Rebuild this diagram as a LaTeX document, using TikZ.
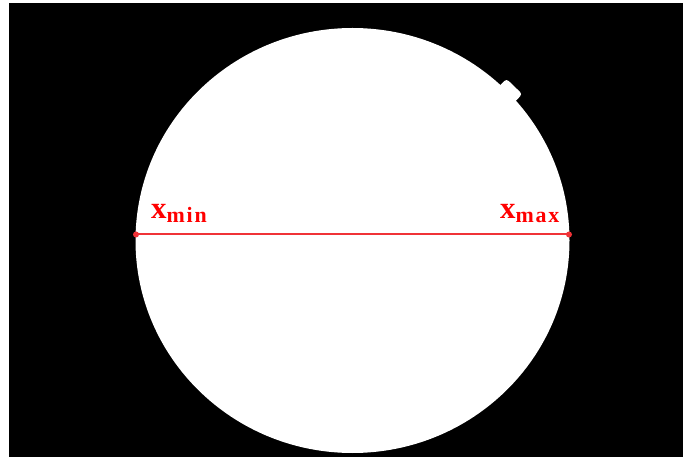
\documentclass[tikz,border=0pt]{standalone}
\usepackage{fontspec}
\setmainfont{Liberation Serif}
\definecolor{linered}{RGB}{240,50,55}
\tikzset{
  endpt/.style={circle,fill=linered,inner sep=0pt,minimum size=6bp},
  lbl/.style={text=red,font=\bfseries,inner sep=0pt,anchor=base west},
}
\newcommand{\bigx}[1]{{\fontsize{31}{31}\selectfont x}\raisebox{-4bp}{\fontsize{22}{22}\selectfont\addfontfeatures{LetterSpace=8}#1}}
\begin{document}
\begin{tikzpicture}[x=1bp,y=-1bp]
\useasboundingbox (0,0) rectangle (683,459);
\fill[white] (0,0) rectangle (683,459);
\fill[black] (9,3) rectangle (683,457);
% disk
\fill[white] (352.5,240.5) ellipse [x radius=217, y radius=212.5];
\node[fill=white,rounded corners=3bp,minimum width=22bp,minimum height=14bp,inner sep=0pt,rotate=-44] (notch) at (509.5,91.5) {};
% diameter
\node[endpt] (xmin) at (136,234.5) {};
\node[endpt] (xmax) at (569,234.5) {};
\draw[linered,line width=2bp] (xmin.center) -- (xmax.center);
\node[lbl] (lmin) at (151,219) {\bigx{min}};
\node[lbl] (lmax) at (500,219) {\bigx{max}};
\end{tikzpicture}
\end{document}
